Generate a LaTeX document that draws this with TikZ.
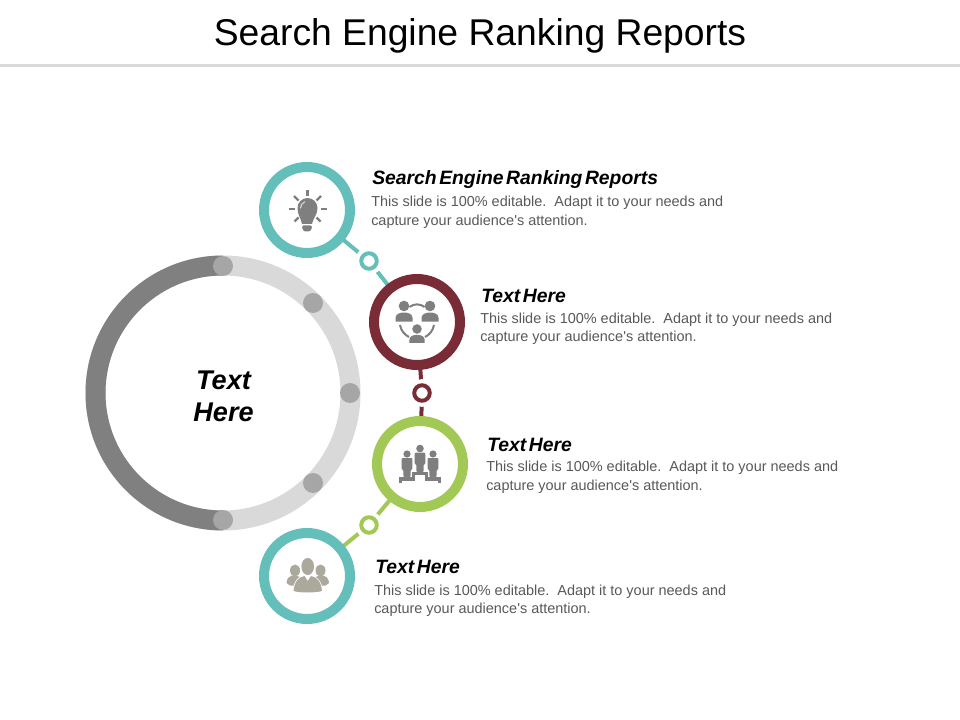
\documentclass[tikz,border=0pt]{standalone}
\usepackage{fontspec}
\setmainfont{Liberation Sans}
\newfontfamily\bodyf{Liberation Sans}
\definecolor{teal1}{HTML}{64BFBA}
\definecolor{maroon1}{HTML}{7A2C36}
\definecolor{green1}{HTML}{A2C856}
\definecolor{ringlight}{HTML}{D9D9D9}
\definecolor{ringdark}{HTML}{808080}
\definecolor{dotgray}{HTML}{A6A6A6}
\definecolor{icongray}{HTML}{7F7F7F}
\definecolor{iconbeige}{HTML}{ABA99B}
\definecolor{bodygray}{HTML}{595959}
\newcommand{\headtxt}[1]{{\fontsize{14.5}{17}\selectfont\bfseries\itshape\spaceskip=0.13em\relax #1}}
\newcommand{\bodytxt}[2]{{\fontsize{10.84}{13.8}\bodyf\selectfont\color{bodygray}\begin{tabular}{@{}l@{}}#1\\#2\end{tabular}}}
\newcommand{\personA}[3]{% head cx,cy, scale
  \fill[icongray] (#1,#2) circle[radius=5.3*#3];
  \fill[icongray] ({#1-8.5*#3},{#2+15.5*#3}) -- ({#1-8.5*#3},{#2+12*#3}) .. controls ({#1-8.5*#3},{#2+8*#3}) and ({#1-4*#3},{#2+6.5*#3}) .. (#1,{#2+6.5*#3}) .. controls ({#1+4*#3},{#2+6.5*#3}) and ({#1+8.5*#3},{#2+8*#3}) .. ({#1+8.5*#3},{#2+12*#3}) -- ({#1+8.5*#3},{#2+15.5*#3}) -- cycle;}
\newcommand{\suit}[5]{% x center, head y, head r, half width, bottom y
  \fill[icongray] (#1,#2) circle[radius=#3];
  \fill[icongray,rounded corners=0.8] ({#1-#4},{#2+#3+12}) -- ({#1-#4},{#2+#3+0.4}) -- ({#1+#4},{#2+#3+0.4}) -- ({#1+#4},{#2+#3+12}) -- ({#1+#4-1.8},{#2+#3+12}) -- ({#1+#4-1.8},#5) -- ({#1-#4+1.8},#5) -- ({#1-#4+1.8},{#2+#3+12}) -- cycle;}
\tikzset{
  bigcirc/.style={circle,draw=#1,line width=7.5pt,fill=white,minimum size=86*0.75pt,inner sep=0pt},
  smallcirc/.style={circle,draw=#1,line width=3pt,fill=white,minimum size=15.5*0.75pt,inner sep=0pt,
    preaction={draw=white,line width=9pt}},
  conn/.style={draw=#1,line width=3pt},
  dotnode/.style={circle,fill=dotgray,minimum size=20*0.75pt,inner sep=0pt},
  headnode/.style={anchor=base west,inner sep=0pt},
  bodynode/.style={anchor=north west,inner sep=0pt}
}
\begin{document}
\begin{tikzpicture}[x=0.75pt,y=-0.75pt]
\useasboundingbox (0,0) rectangle (960,720);
\fill[white] (0,0) rectangle (960,720);
% title
\node[anchor=base,inner sep=0pt,font=\fontsize{27.95}{32}\selectfont] (title) at (480,46) {Search Engine Ranking Reports};
\coordinate (ruleL) at (0,65.5);
\coordinate (ruleR) at (960,65.5);
\draw[ringlight,line width=2.2pt] (ruleL) -- (ruleR);
% big ring
\draw[ringlight,line width=15pt] (223,393) circle[radius=127.5];
\draw[ringdark,line width=15pt] (223,265.5) arc[start angle=-90,end angle=-270,radius=127.5];
\node[dotnode] (d1) at (223,266) {};
\node[dotnode] (d2) at (313,303) {};
\node[dotnode] (d3) at (350,393) {};
\node[dotnode] (d4) at (313,483) {};
\node[dotnode] (d5) at (223,520) {};
\node[align=center,font=\fontsize{20.3}{24}\selectfont\bfseries\itshape] (center) at (223.5,396) {Text\\Here};
% named positions
\coordinate (p1) at (307,210);
\coordinate (p2) at (417,322);
\coordinate (p3) at (420,464);
\coordinate (p4) at (307,576);
\coordinate (q1) at (369,261);
\coordinate (q2) at (422,393);
\coordinate (q3) at (369,525);
% connectors
\draw[conn=teal1] (p1) -- (q1) -- (p2);
\draw[conn=maroon1] (p2) -- (q2) -- (p3);
\draw[conn=green1] (p3) -- (q3) -- (p4);
% circles
\node[bigcirc=teal1] (c1) at (p1) {};
\node[bigcirc=maroon1] (c2) at (p2) {};
\node[bigcirc=green1] (c3) at (p3) {};
\node[bigcirc=teal1] (c4) at (p4) {};
\node[smallcirc=teal1] (s1) at (q1) {};
\node[smallcirc=maroon1] (s2) at (q2) {};
\node[smallcirc=green1] (s3) at (q3) {};
% bulb icon
\begin{scope}[icongray]
\fill (297.5,208) arc[start angle=180,end angle=360,radius=10] .. controls (317.5,215) and (313,218) .. (312,224) -- (302,224) .. controls (301,218) and (297.5,215) .. (297.5,208) -- cycle;
\fill[rounded corners=1] (302,225.5) -- (312,225.5) -- (312,228) -- (310,231.5) -- (304,231.5) -- (302,228) -- cycle;
\draw[white!65!icongray,line width=0.9pt,line cap=round] (300.5,208) arc[start angle=180,end angle=250,radius=6.5];
\draw[line width=1.6pt] (307.5,190.5) -- (307.5,196);
\draw[line width=1.6pt] (288.5,209) -- (294.5,209);
\draw[line width=1.6pt] (321,209) -- (327,209);
\draw[line width=1.6pt] (294,196) -- (298.5,200.5);
\draw[line width=1.6pt] (321,196) -- (316.5,200.5);
\draw[line width=1.6pt] (294.5,221.5) -- (298.5,217.5);
\draw[line width=1.6pt] (320.5,221.5) -- (316.5,217.5);
\end{scope}
% team icon
\personA{404}{306}{1}
\personA{430}{306}{1}
\personA{417}{329}{0.9}
\draw[icongray,line width=1.5pt] (409.5,307) .. controls (414,303.5) and (420,303.5) .. (424.5,307);
\draw[icongray,line width=1.5pt] (400,325) .. controls (401,331) and (405,335) .. (409,337);
\draw[icongray,line width=1.5pt] (434,325) .. controls (433,331) and (429,335) .. (425,337);
% podium icon
\suit{407}{454}{3.6}{5.4}{477}
\suit{420}{448.5}{3.8}{5.4}{472}
\suit{433}{454}{3.6}{5.4}{477}
\draw[icongray,line width=2.4pt] (400.5,483) -- (400.5,479) -- (413.5,479) -- (413.5,473.5) -- (426.5,473.5) -- (426.5,479) -- (439.5,479) -- (439.5,483);
% group icon
\begin{scope}[iconbeige]
\fill (295,570.5) ellipse[x radius=5,y radius=6];
\fill (320.5,570.5) ellipse[x radius=5,y radius=6];
\fill (286.5,583) .. controls (286.5,578) and (290,575.5) .. (295,575) -- (302,578) -- (297,586) -- (290,585.5) -- cycle;
\fill (329,583) .. controls (329,578) and (325.5,575.5) .. (320.5,575) -- (313.5,578) -- (318.5,586) -- (325.5,585.5) -- cycle;
\fill[white] (307.7,566.5) ellipse[x radius=7.2,y radius=9.4];
\fill (307.7,566.5) ellipse[x radius=6.3,y radius=8.5];
\fill[white] (292.5,593) .. controls (293,581) and (298,575.5) .. (307.7,575) .. controls (317,575.5) and (322.5,581) .. (323,593) -- cycle;
\fill (293.5,591) .. controls (294.5,581) and (299,577) .. (304.5,576) -- (307.7,581) -- (311,576) .. controls (316.5,577) and (321,581) .. (322,591) .. controls (315,593) and (300,593) .. (293.5,591) -- cycle;
\end{scope}
% texts
\node[headnode] (h1) at (372,185) {\headtxt{Search Engine Ranking Reports}};
\node[bodynode] (b1) at (371,193.5) {\bodytxt{This slide is 100\% editable.\ \ Adapt it to your needs and}{capture your audience's attention.}};
\node[headnode] (h2) at (481,302) {\headtxt{Text Here}};
\node[bodynode] (b2) at (480,310) {\bodytxt{This slide is 100\% editable.\ \ Adapt it to your needs and}{capture your audience's attention.}};
\node[headnode] (h3) at (487,451) {\headtxt{Text Here}};
\node[bodynode] (b3) at (486,458.5) {\bodytxt{This slide is 100\% editable.\ \ Adapt it to your needs and}{capture your audience's attention.}};
\node[headnode] (h4) at (375,573) {\headtxt{Text Here}};
\node[bodynode] (b4) at (374,582) {\bodytxt{This slide is 100\% editable.\ \ Adapt it to your needs and}{capture your audience's attention.}};
\end{tikzpicture}
\end{document}
